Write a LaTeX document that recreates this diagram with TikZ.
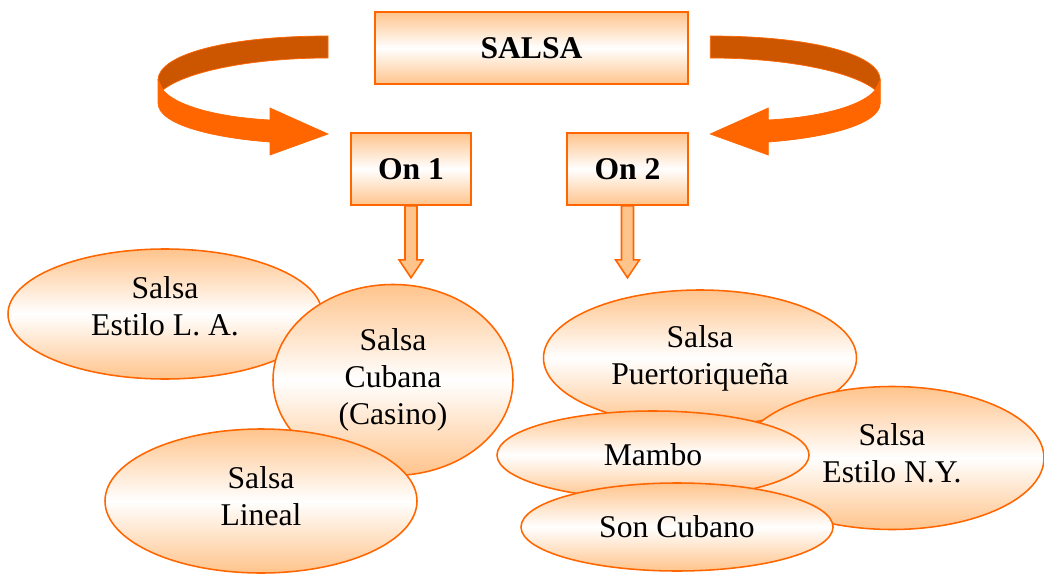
\documentclass[tikz,border=0pt]{standalone}
\usepackage{fontspec}
\setmainfont{Liberation Serif}
\usetikzlibrary{shapes.geometric}
\definecolor{salsaorange}{RGB}{255,102,0}
\definecolor{salsadark}{RGB}{204,85,0}
\definecolor{peach}{RGB}{255,196,140}
\tikzset{
  dims/.style 2 args={minimum width=#1*0.025cm, minimum height=#2*0.025cm},
  shadefill/.style={draw=salsaorange, line width=1.1pt, top color=peach, bottom color=peach, middle color=white},
  titlebox/.style={shadefill, rectangle, inner sep=0pt, font=\fontsize{22.5}{26}\selectfont\bfseries},
  bubble/.style={shadefill, ellipse, inner sep=0pt, align=center, font=\fontsize{22.5}{26.3}\selectfont},
  lift/.style={text depth=#1},
  downarrow/.style={draw=salsaorange, fill=peach, line width=1.1pt, line join=miter},
}
% one curling ribbon arrow, drawn for the left side
\newcommand{\curlarrow}{%
  \filldraw[fill=salsadark, draw=salsaorange, line width=0.5pt]
    (328,36) .. controls (225,36) and (158,55) .. (158,80) -- (163,90)
    .. controls (185,72) and (250,58) .. (328,58) -- cycle;
  \filldraw[fill=salsaorange, draw=salsaorange, line width=0.5pt]
    (158,80) -- (158,103) .. controls (158,125) and (215,138) .. (270,142)
    -- (270,155) -- (328,134) -- (270,108) -- (270,120)
    .. controls (215,117) and (175,105) .. (163,90) -- cycle;
}
\begin{document}
\begin{tikzpicture}[x=0.025cm, y=-0.025cm]
  \useasboundingbox (0,0) rectangle (1044,577);
  % boxes
  \node[titlebox, dims={313}{72}] (salsa) at (531.5,48) {SALSA};
  \node[titlebox, dims={120}{72}] (on1) at (411,169) {On 1};
  \node[titlebox, dims={121}{72}] (on2) at (627.5,169) {On 2};
  % ribbon arrows
  \curlarrow
  \begin{scope}[xshift=25.95cm, xscale=-1]
    \curlarrow
  \end{scope}
  % block arrows
  \draw[downarrow] (on1.south) ++(-6,0) -- ++(0,54) -- ++(-6,0) -- ++(12,18) -- ++(12,-18) -- ++(-6,0) -- ++(0,-54) -- cycle;
  \draw[downarrow] (on2.south) ++(-6,0) -- ++(0,54) -- ++(-6,0) -- ++(12,18) -- ++(12,-18) -- ++(-6,0) -- ++(0,-54) -- cycle;
  % styles On 1
  \node[bubble, lift=11pt, dims={314}{130}] (la) at (165,314) {Salsa\\Estilo L. A.};
  \node[bubble, dims={240}{191}] (cubana) at (393,380) {Salsa\\Cubana\\(Casino)};
  \node[bubble, lift=7pt, dims={312}{144}] (lineal) at (261,501) {Salsa\\Lineal};
  % styles On 2
  \node[bubble, dims={313}{136}] (puerto) at (700,358) {Salsa\\Puertoriqueña};
  \node[bubble, lift=7pt, dims={304}{143}] (ny) at (892,458) {Salsa\\Estilo N.Y.};
  \node[bubble, dims={312}{88}] (mambo) at (653,455) {Mambo};
  \node[bubble, dims={312}{88}] (soncubano) at (677,527) {Son Cubano};
\end{tikzpicture}
\end{document}
